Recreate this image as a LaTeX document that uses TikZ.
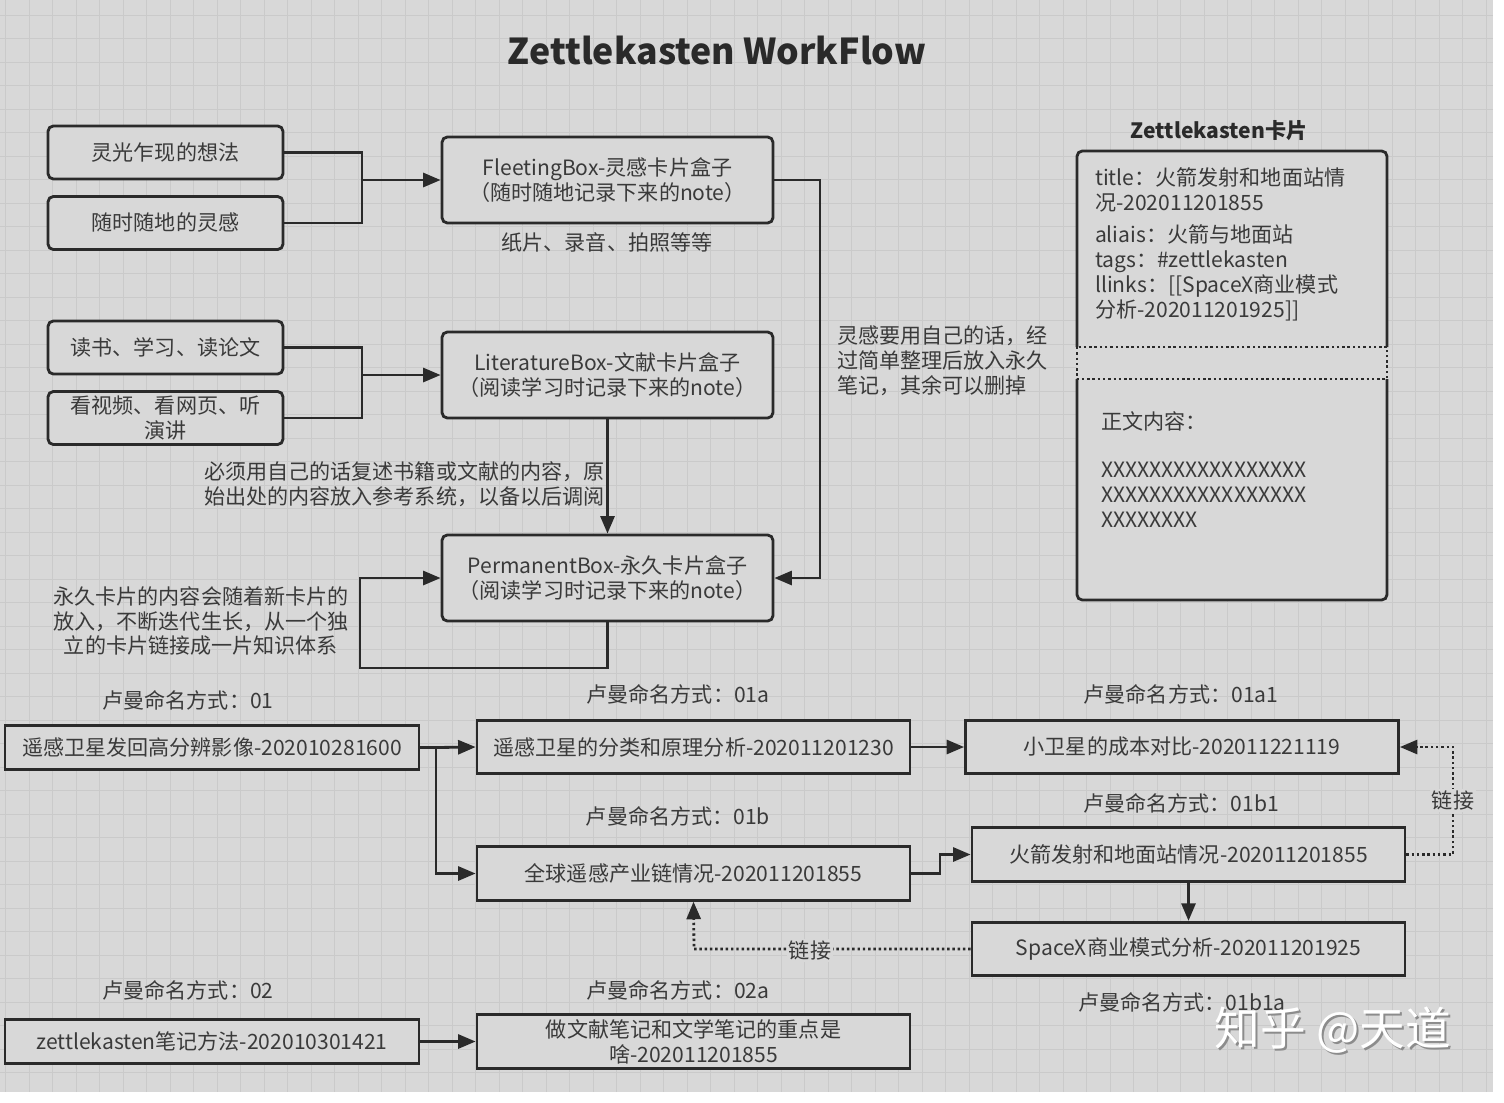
\documentclass[tikz,border=0pt]{standalone}
\usepackage{fontspec}
\setmainfont{Noto Sans CJK SC}
\usetikzlibrary{arrows.meta}
\definecolor{zkpaper}{HTML}{D8D8D8}
\definecolor{zkgrid}{HTML}{CACACA}
\definecolor{zkink}{HTML}{2A2A2A}
\definecolor{zktext}{HTML}{3A3A3A}
\tikzset{
  boxline/.style={draw=zkink, line width=1.6pt, fill=zkpaper, text=zktext, align=center, inner sep=0pt},
  ideabox/.style={boxline, rounded corners=3pt, minimum width=4.7cm, minimum height=1.06cm},
  stagebox/.style={boxline, rounded corners=3pt, minimum width=6.62cm, minimum height=1.72cm},
  rootbox/.style={boxline, minimum width=8.28cm, minimum height=0.88cm},
  notebox/.style={boxline, minimum width=8.66cm, minimum height=1.07cm},
  remark/.style={text=zktext, inner sep=1pt},
  wire/.style={draw=zkink, line width=1.6pt},
  flow/.style={wire, -{Triangle[length=10pt,width=8pt]}},
  linkwire/.style={wire, dash pattern=on 1.4pt off 1.6pt},
  linkflow/.style={linkwire, -{Triangle[length=10pt,width=8pt]}},
  gridline/.style={draw=zkgrid, line width=0.5pt}
}
\newcommand{\zkidea}[3] {\node at (#1) (#2) [ideabox] {#3};}
\newcommand{\zkstage}[3] {\node at (#1) (#2) [stagebox] {#3};}
\newcommand{\zkroot}[3] {\node at (#1) (#2) [rootbox] {#3};}
\newcommand{\zknote}[3] {\node at (#1) (#2) [notebox] {#3};}
\newcommand{\zkremark}[3] {\node at (#1) (#2) [remark, align=center] {#3};}
\newcommand{\zkleft}[3] {\node at (#1) (#2) [remark, anchor=west, align=left] {#3};}
\newcommand{\zkname}[3] {\node at (#1) (#2) [remark] {卢曼命名方式：#3};}
\newcommand{\zkwire}[2] {\draw [wire] (#1) -- (#2);}
\newcommand{\zktransition}[2] {\draw [flow] (#1) -- (#2);}
\newcommand{\zkxthree}[3] {\draw [flow] (#1) -- (#2) -- (#3);}
\newcommand{\zkxfour}[4] {\draw [flow] (#1) -- (#2) -- (#3) -- (#4);}
\begin{document}
\begin{tikzpicture}[x=0.02cm, y=-0.02cm, font=\fontsize{12}{14.2}\selectfont]

\useasboundingbox (0,0) rectangle (1504,1102);
\fill [white] (0,0) rectangle (1504,1102);
\fill [zkpaper] (0,0) rectangle (1493,1092);
\foreach \gx in {5.5,29,...,1493} \draw [gridline] (\gx,0) -- (\gx,1092);
\foreach \gy in {15,38.5,...,1092} \draw [gridline] (0,\gy) -- (1493,\gy);

\node at (717,50) (title) [remark, text=zkink, font=\fontsize{20.3}{25}\selectfont\bfseries] {Zettlekasten WorkFlow};

% upper workflow
\zkidea {165.5,152.5}{spark}{灵光乍现的想法}
\zkidea {165.5,223}{anytime}{随时随地的灵感}
\zkidea {165.5,347.5}{reading}{读书、学习、读论文}
\zkidea {165.5,418}{watching}{看视频、看网页、听\\演讲}

\zkstage {607.5,180}{fleeting}{FleetingBox-灵感卡片盒子\\（随时随地记录下来的note）}
\zkstage {607.5,375}{literature}{LiteratureBox-文献卡片盒子\\（阅读学习时记录下来的note）}
\zkstage {607.5,578}{permanent}{PermanentBox-永久卡片盒子\\（阅读学习时记录下来的note）}

\coordinate (sparkb) at (362,152.5);
\coordinate (anytimeb) at (362,223);
\coordinate (fleetin) at (362,180);
\draw [wire] (spark.east) -- (sparkb) -- (anytimeb) -- (anytime.east);
\zktransition {fleetin}{fleeting.west}

\coordinate (readingb) at (362,347.5);
\coordinate (watchingb) at (362,418);
\coordinate (litin) at (362,375);
\draw [wire] (reading.east) -- (readingb) -- (watchingb) -- (watching.east);
\zktransition {litin}{literature.west}

\zktransition {literature.south}{permanent.north}

\coordinate (fleetingb) at (820,180);
\coordinate (fleetingc) at (820,578);
\zkxfour {fleeting.east}{fleetingb}{fleetingc}{permanent.east}

\coordinate (permb) at (607.5,668);
\coordinate (permc) at (360,668);
\coordinate (permd) at (360,578);
\draw [flow] (permanent.south) -- (permb) -- (permc) -- (permd) -- (permanent.west);

\zkremark {607,242}{media}{纸片、录音、拍照等等}
\zkleft {202,484}{rewrite}{必须用自己的话复述书籍或文献的内容，原\\始出处的内容放入参考系统，以备以后调阅}
\zkleft {835,361}{tidy}{灵感要用自己的话，经\\过简单整理后放入永久\\笔记，其余可以删掉}
\zkremark {201,621}{grow}{永久卡片的内容会随着新卡片的\\放入，不断迭代生长，从一个独\\立的卡片链接成一片知识体系}

% card
\node at (1219,131) (cardtitle) [remark, text=zkink, font=\fontsize{12}{14.2}\selectfont\bfseries] {Zettlekasten卡片};
\fill [zkpaper] (1077,151) rectangle (1387,600);
\draw [wire, rounded corners=3pt] (1077,347) -- (1077,151) -- (1387,151) -- (1387,347);
\draw [wire, rounded corners=3pt] (1077,379) -- (1077,600) -- (1387,600) -- (1387,379);
\draw [linkwire] (1077,347) rectangle (1387,379);
\zkleft {1093,189.5}{cardhead}{title：火箭发射和地面站情\\况-202011201855}
\zkleft {1093,272.5}{cardmeta}{aliais：火箭与地面站\\tags：\#zettlekasten\\llinks：[[SpaceX商业模式\\分析-202011201925]]}
\zkleft {1099,421}{cardbody}{正文内容：}
\zkleft {1099,495}{cardtext}{XXXXXXXXXXXXXXXXX\\XXXXXXXXXXXXXXXXX\\XXXXXXXX}

% luhmann numbering
\zkroot {212,747.5}{n01}{遥感卫星发回高分辨影像-202010281600}
\zknote {693.5,747}{n01a}{遥感卫星的分类和原理分析-202011201230}
\zknote {1182,747}{n01a1}{小卫星的成本对比-202011221119}
\zknote {693.5,873.5}{n01b}{全球遥感产业链情况-202011201855}
\zknote {1188.5,854.5}{n01b1}{火箭发射和地面站情况-202011201855}
\zknote {1188.5,949}{n01b1a}{SpaceX商业模式分析-202011201925}
\zkroot {212,1041.5}{n02}{zettlekasten笔记方法-202010301421}
\zknote {693.5,1041.5}{n02a}{做文献笔记和文学笔记的重点是\\啥-202011201855}

\zkname {188,700}{l01}{01}
\zkname {678,694}{l01a}{01a}
\zkname {1181,694}{l01a1}{01a1}
\zkname {678,816}{l01b}{01b}
\zkname {1181,803}{l01b1}{01b1}
\zkname {1182,1002}{l01b1a}{01b1a}
\zkname {188,990}{l02}{02}
\zkname {678,990}{l02a}{02a}

\coordinate (rootfork) at (436,747.5);
\coordinate (rootdown) at (436,873.5);
\zkwire {n01.east}{rootfork}
\zktransition {rootfork}{n01a.west}
\zkxthree {rootfork}{rootdown}{n01b.west}
\zktransition {n01a.east}{n01a1.west}
\coordinate (stepb) at (940,873.5);
\coordinate (stepc) at (940,854.5);
\zkxfour {n01b.east}{stepb}{stepc}{n01b1.west}
\zktransition {n01b1.south}{n01b1a.north}
\zktransition {n02.east}{n02a.west}

\coordinate (linkb) at (1453,854.5);
\coordinate (linkc) at (1453,747);
\draw [linkflow] (n01b1.east) -- (linkb) -- (linkc) -- (n01a1.east);
\node at (1453,800) (linkname) [remark, fill=zkpaper] {链接};
\coordinate (backb) at (694,949);
\draw [linkflow] (n01b1a.west) -- (backb) -- (n01b.south);
\node at (810,950) (backname) [remark, fill=zkpaper] {链接};

\node at (1335,1032) (markshade) [text=black!45, font=\fontsize{26}{30}\selectfont] {知乎 @天道};
\node at (1333,1030) (mark) [text=white, font=\fontsize{26}{30}\selectfont] {知乎 @天道};

\end{tikzpicture}
\end{document}
